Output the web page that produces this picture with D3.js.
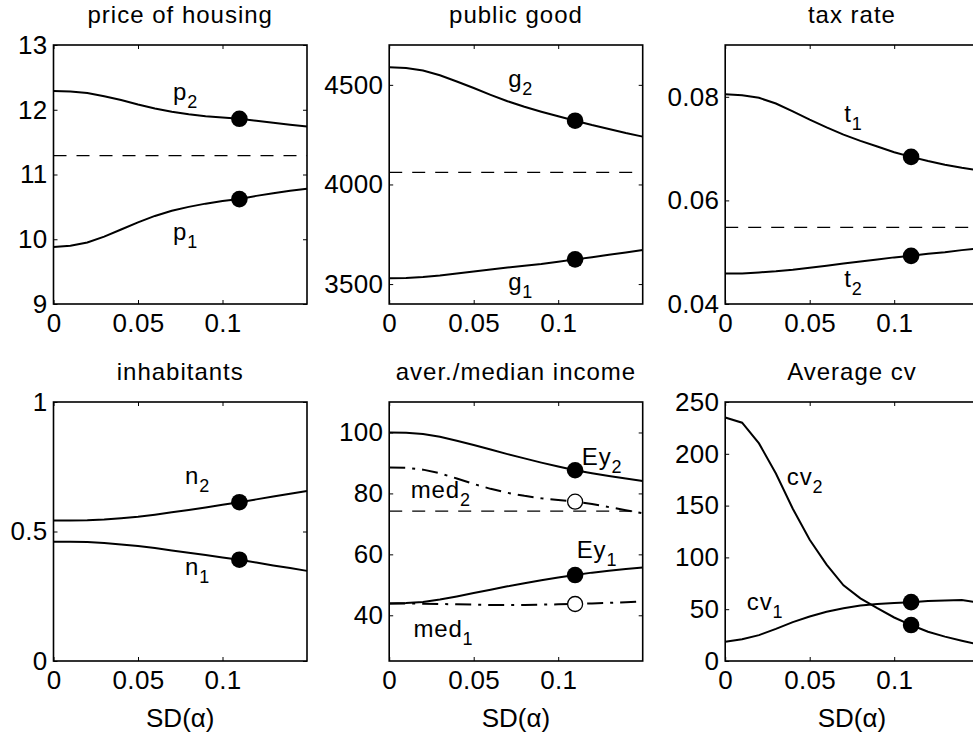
<!DOCTYPE html>
<html>
<head>
<meta charset="utf-8">
<script src="https://cdn.jsdelivr.net/npm/d3@7"></script>
<style>
    body { margin: 0; background: #fff; }
    svg text { font-family: "Liberation Sans", Arial, Helvetica, sans-serif; fill: #000; }
</style>
</head>
<body>
<div id="container"></div>
<script>
// x values shared by every panel: SD(alpha)
const sd = [0, 0.01, 0.02, 0.03, 0.04, 0.05, 0.06, 0.07, 0.08, 0.09, 0.10, 0.11, 0.12, 0.13, 0.14, 0.15];
const sdTicks = [0, 0.05, 0.1];
const markerIndex = 11; // SD = 0.11

// price of housing
const priceP1 = [9.88, 9.90, 9.95, 10.04, 10.15, 10.26, 10.36, 10.44, 10.50, 10.55, 10.59, 10.62, 10.67, 10.71, 10.75, 10.78];
const priceP2 = [12.29, 12.28, 12.26, 12.21, 12.15, 12.08, 12.02, 11.97, 11.93, 11.90, 11.88, 11.86, 11.83, 11.80, 11.77, 11.74];
const priceRef = 11.29;

// public good
const goodG1 = [3529, 3530, 3535, 3543, 3553, 3563, 3573, 3583, 3592, 3601, 3612, 3624, 3635, 3647, 3659, 3671];
const goodG2 = [4588, 4585, 4572, 4548, 4517, 4484, 4450, 4418, 4390, 4365, 4342, 4320, 4298, 4278, 4258, 4240];
const goodRef = 4061;

// tax rate
const taxT1 = [0.0805, 0.0803, 0.0798, 0.0787, 0.0772, 0.0756, 0.0741, 0.0727, 0.0715, 0.0704, 0.0693, 0.0684, 0.0676, 0.0669, 0.0663, 0.0658];
const taxT2 = [0.0459, 0.0459, 0.0461, 0.0463, 0.0466, 0.0470, 0.0474, 0.0478, 0.0482, 0.0486, 0.0490, 0.0493, 0.0497, 0.0500, 0.0504, 0.0507];
const taxRef = 0.0548;

// inhabitants
const popN1 = [0.460, 0.460, 0.459, 0.456, 0.450, 0.444, 0.436, 0.427, 0.418, 0.409, 0.400, 0.391, 0.380, 0.369, 0.359, 0.348];
const popN2 = [0.542, 0.542, 0.543, 0.546, 0.551, 0.557, 0.565, 0.574, 0.583, 0.593, 0.603, 0.613, 0.624, 0.635, 0.646, 0.656];

// average / median income
const incEy1 = [43.9, 44.0, 44.4, 45.2, 46.2, 47.3, 48.4, 49.5, 50.5, 51.5, 52.4, 53.2, 54.0, 54.6, 55.2, 55.7];
const incEy2 = [100.0, 99.9, 99.5, 98.6, 97.3, 95.9, 94.4, 92.9, 91.5, 90.1, 88.8, 87.6, 86.6, 85.7, 84.9, 84.1];
const incMed1 = [43.9, 43.9, 43.8, 43.7, 43.6, 43.5, 43.4, 43.4, 43.4, 43.5, 43.6, 43.7, 43.9, 44.1, 44.3, 44.5];
const incMed2 = [88.5, 88.4, 87.8, 86.6, 84.9, 83.1, 81.5, 80.2, 79.2, 78.4, 77.8, 77.3, 76.5, 75.5, 74.5, 73.5];
const incRef = 74.2;

// average cv
const cvCv1 = [18.6, 21, 25, 31, 37.5, 43, 47.5, 51, 53.5, 55, 56, 56.8, 57.8, 58.5, 58.8, 56.5];
const cvCv2 = [235, 230, 210, 181, 147, 117, 93, 73, 60.5, 51, 42, 34.7, 28.3, 23.5, 19.6, 16];

const width = 973, height = 736;
const panelW = 253.5, panelH = 259;
const colLeft = [53.5, 389.2, 725.2];
const rowTop = [45, 402];
const fontSize = 26, titleSize = 24, labelSize = 24, subSize = 18;

const svg = d3.select("#container")
    .append("svg")
    .attr("width", width)
    .attr("height", height);

// panel definitions; label positions are in data coordinates
const panels = [
    { col: 0, row: 0, title: "price of housing", yDomain: [9, 13], yTicks: [9, 10, 11, 12, 13], ref: priceRef,
      series: [
        { values: priceP2, dash: null, open: false, label: ["p", "2"], at: [0.0707, 12.15] },
        { values: priceP1, dash: null, open: false, label: ["p", "1"], at: [0.0707, 9.99] }
      ] },
    { col: 1, row: 0, title: "public good", yDomain: [3400, 4700], yTicks: [3500, 4000, 4500], ref: goodRef,
      series: [
        { values: goodG2, dash: null, open: false, label: ["g", "2"], at: [0.0704, 4488] },
        { values: goodG1, dash: null, open: false, label: ["g", "1"], at: [0.0704, 3470] }
      ] },
    { col: 2, row: 0, title: "tax rate", yDomain: [0.04, 0.09], yTicks: [0.04, 0.06, 0.08], ref: taxRef,
      series: [
        { values: taxT1, dash: null, open: false, label: ["t", "1"], at: [0.0704, 0.0752] },
        { values: taxT2, dash: null, open: false, label: ["t", "2"], at: [0.0704, 0.0433] }
      ] },
    { col: 0, row: 1, title: "inhabitants", yDomain: [0, 1], yTicks: [0, 0.5, 1], ref: null, xlabel: true,
      series: [
        { values: popN2, dash: null, open: false, label: ["n", "2"], at: [0.0778, 0.683] },
        { values: popN1, dash: null, open: false, label: ["n", "1"], at: [0.0778, 0.332] }
      ] },
    { col: 1, row: 1, title: "aver./median income", yDomain: [25, 110], yTicks: [40, 60, 80, 100], ref: incRef, xlabel: true,
      series: [
        { values: incEy2, dash: null, open: false, label: ["Ey", "2"], at: [0.114, 89.3] },
        { values: incMed2, dash: "16,7,3,7", open: true, label: ["med", "2"], at: [0.0128, 78.4] },
        { values: incEy1, dash: null, open: false, label: ["Ey", "1"], at: [0.111, 58.7] },
        { values: incMed1, dash: "16,7,3,7", open: true, label: ["med", "1"], at: [0.0144, 33.0] }
      ] },
    { col: 2, row: 1, title: "Average cv", yDomain: [0, 250], yTicks: [0, 50, 100, 150, 200, 250], ref: null, xlabel: true,
      series: [
        { values: cvCv2, dash: null, open: false, label: ["cv", "2"], at: [0.0365, 169.9] },
        { values: cvCv1, dash: null, open: false, label: ["cv", "1"], at: [0.0128, 49.2] }
      ] }
];

panels.forEach(p => drawPanel(p));

function drawPanel(p) {
    const left = colLeft[p.col], top = rowTop[p.row];
    const g = svg.append("g").attr("transform", `translate(${left},${top})`);

    const x = d3.scaleLinear().domain([0, 0.15]).range([0, panelW]);
    const y = d3.scaleLinear().domain(p.yDomain).range([panelH, 0]);

    // title
    g.append("text")
        .attr("x", panelW / 2)
        .attr("y", -22)
        .attr("text-anchor", "middle")
        .attr("font-size", titleSize)
        .attr("letter-spacing", 1)
        .text(p.title);

    // reference (dashed) line
    if (p.ref !== null) {
        g.append("line")
            .attr("x1", x(0)).attr("x2", x(0.15))
            .attr("y1", y(p.ref)).attr("y2", y(p.ref))
            .attr("stroke", "#000")
            .attr("stroke-width", 1.2)
            .attr("stroke-dasharray", "13,10");
    }

    // curves
    const line = d3.line()
        .x((d, i) => x(sd[i]))
        .y(d => y(d));

    p.series.forEach(s => {
        g.append("path")
            .datum(s.values)
            .attr("d", line)
            .attr("fill", "none")
            .attr("stroke", "#000")
            .attr("stroke-width", 2)
            .attr("stroke-dasharray", s.dash);
    });

    // markers at SD = 0.11
    p.series.forEach(s => {
        g.append("circle")
            .attr("cx", x(sd[markerIndex]))
            .attr("cy", y(s.values[markerIndex]))
            .attr("r", s.open ? 7.5 : 8.3)
            .attr("fill", s.open ? "#fff" : "#000")
            .attr("stroke", "#000")
            .attr("stroke-width", s.open ? 1.3 : 0);
    });

    // curve labels with subscripts
    p.series.forEach(s => {
        const t = g.append("text")
            .attr("x", x(s.at[0]))
            .attr("y", y(s.at[1]))
            .attr("font-size", labelSize)
            .attr("letter-spacing", 0.8);
        t.append("tspan").text(s.label[0]);
        t.append("tspan").attr("font-size", subSize).attr("dy", 8).text(s.label[1]);
    });

    // axes: ticks inside, box all round
    const tk = 4;
    const fmt = d => String(d);
    const axL = g.append("g")
        .call(d3.axisLeft(y).tickValues(p.yTicks).tickSize(-tk).tickPadding(6).tickFormat(fmt));
    const axB = g.append("g")
        .attr("transform", `translate(0,${panelH})`)
        .call(d3.axisBottom(x).tickValues(sdTicks).tickSize(-tk).tickPadding(10).tickFormat(fmt));
    g.append("g")
        .attr("transform", `translate(${panelW},0)`)
        .call(d3.axisRight(y).tickValues(p.yTicks).tickSize(-tk).tickFormat(""));
    g.append("g")
        .call(d3.axisTop(x).tickValues(sdTicks).tickSize(-tk).tickFormat(""));

    g.selectAll(".domain").remove();
    g.selectAll(".tick line").attr("stroke", "#000").attr("stroke-width", 1);
    [axL, axB].forEach(a => a.selectAll("text")
        .attr("font-size", fontSize)
        .attr("letter-spacing", 0.3)
        .attr("font-family", null));

    g.append("rect")
        .attr("width", panelW)
        .attr("height", panelH)
        .attr("fill", "none")
        .attr("stroke", "#000")
        .attr("stroke-width", 1.6);

    if (p.xlabel) {
        g.append("text")
            .attr("x", panelW / 2)
            .attr("y", panelH + 66)
            .attr("text-anchor", "middle")
            .attr("font-size", fontSize)
            .text("SD(α)");
    }
}
</script>
</body>
</html>
